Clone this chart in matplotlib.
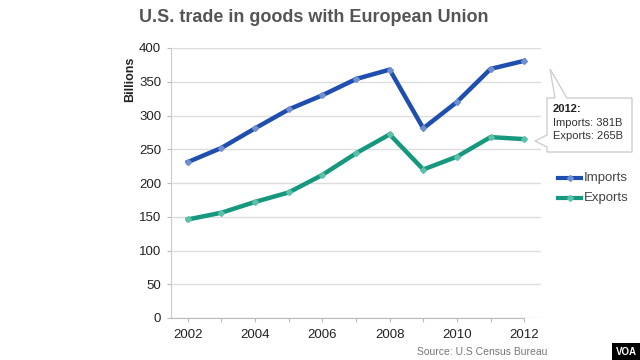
import matplotlib.pyplot as plt
from matplotlib.patches import Polygon, Rectangle
from matplotlib.lines import Line2D

plt.rcParams['font.family'] = ['Liberation Sans', 'DejaVu Sans']

years = [2002, 2003, 2004, 2005, 2006, 2007, 2008, 2009, 2010, 2011, 2012]
imports = [231, 252, 281, 309, 330, 354, 368, 281, 320, 369, 381]
exports = [146, 156, 172, 186, 212, 244, 272, 220, 239, 268, 265]
yticks = [0, 50, 100, 150, 200, 250, 300, 350, 400]
xtick_labels = [2002, 2004, 2006, 2008, 2010, 2012]

blue = '#1f4fae'
teal = '#16987f'

fig = plt.figure(figsize=(6.4, 3.6), dpi=100)
W, H = 640, 360


def fx(px):
    return px / W


def fy(py):
    return 1 - py / H


ax = fig.add_axes([fx(171), fy(318), fx(541) - fx(171), fy(48) - fy(318)])

ax.plot(years, imports, color=blue, lw=3.2, marker='D', ms=3,
        mfc='#6f8fd0', mec='#6f8fd0', solid_joinstyle='round', zorder=3)
ax.plot(years, exports, color=teal, lw=3.2, marker='D', ms=3,
        mfc='#5cc0aa', mec='#5cc0aa', solid_joinstyle='round', zorder=3)

ax.set_xlim(2001.5, 2012.5)
ax.set_ylim(0, 400)
ax.set_yticks(yticks)
ax.set_xticks(years)
ax.set_xticklabels([str(y) if y in xtick_labels else '' for y in years])
ax.yaxis.grid(True, color='#dddddd', lw=1)
ax.set_axisbelow(True)
for s in ['top', 'right']:
    ax.spines[s].set_visible(False)
ax.spines['left'].set_color('#cccccc')
ax.spines['bottom'].set_color('#bbbbbb')
ax.spines['bottom'].set_bounds(2001.5, 2012)
ax.tick_params(axis='y', length=3, color='#bbbbbb', labelsize=9.5,
               labelcolor='#222222', pad=4)
ax.tick_params(axis='x', length=3, color='#bbbbbb', labelsize=9.5,
               labelcolor='#222222', pad=5)
ax.set_ylabel('Billions', fontsize=9, fontweight='bold', color='#222222')
ax.yaxis.set_label_coords(-0.095, 0.885)

fig.text(fx(314), fy(18), 'U.S. trade in goods with European Union',
         ha='center', va='center', fontsize=13, fontweight='bold',
         color='#555555')

# callout box
pts = [(547, 98), (555, 98), (550, 69), (567, 98), (632, 98), (632, 152),
       (547, 152), (547, 147), (535, 141), (547, 135)]
fig.patches.append(Polygon([(fx(x), fy(y)) for x, y in pts], closed=True,
                           transform=fig.transFigure, facecolor='white',
                           edgecolor='#cfcfcf', lw=1, zorder=5))
fig.text(fx(553), fy(109), '2012:', fontsize=8, fontweight='bold',
         color='#222222', va='center', zorder=6)
fig.text(fx(553), fy(123), 'Imports: 381B', fontsize=8, color='#333333',
         va='center', zorder=6)
fig.text(fx(553), fy(136), 'Exports: 265B', fontsize=8, color='#333333',
         va='center', zorder=6)

# legend
for label, c, mc, py in [('Imports', blue, '#6f8fd0', 178),
                         ('Exports', teal, '#5cc0aa', 198)]:
    fig.lines.append(Line2D([fx(558), fx(581)], [fy(py), fy(py)],
                            transform=fig.transFigure, color=c, lw=3))
    fig.lines.append(Line2D([fx(569.5)], [fy(py)], transform=fig.transFigure,
                            marker='D', ms=3, color=mc, lw=0))
    fig.text(fx(584), fy(py), label, fontsize=9.5, color='#444444',
             va='center')

fig.text(fx(547), fy(352), 'Source: U.S Census Bureau', ha='right',
         va='center', fontsize=7.5, color='#777777')

# VOA logo
fig.patches.append(Rectangle((fx(612), 0), fx(640) - fx(612), fy(343),
                             transform=fig.transFigure, facecolor='black',
                             edgecolor='none'))
fig.text(fx(626), fy(352), 'VOA', ha='center', va='center', fontsize=7,
         fontweight='bold', color='white')

fig.savefig('out.png', dpi=100)
